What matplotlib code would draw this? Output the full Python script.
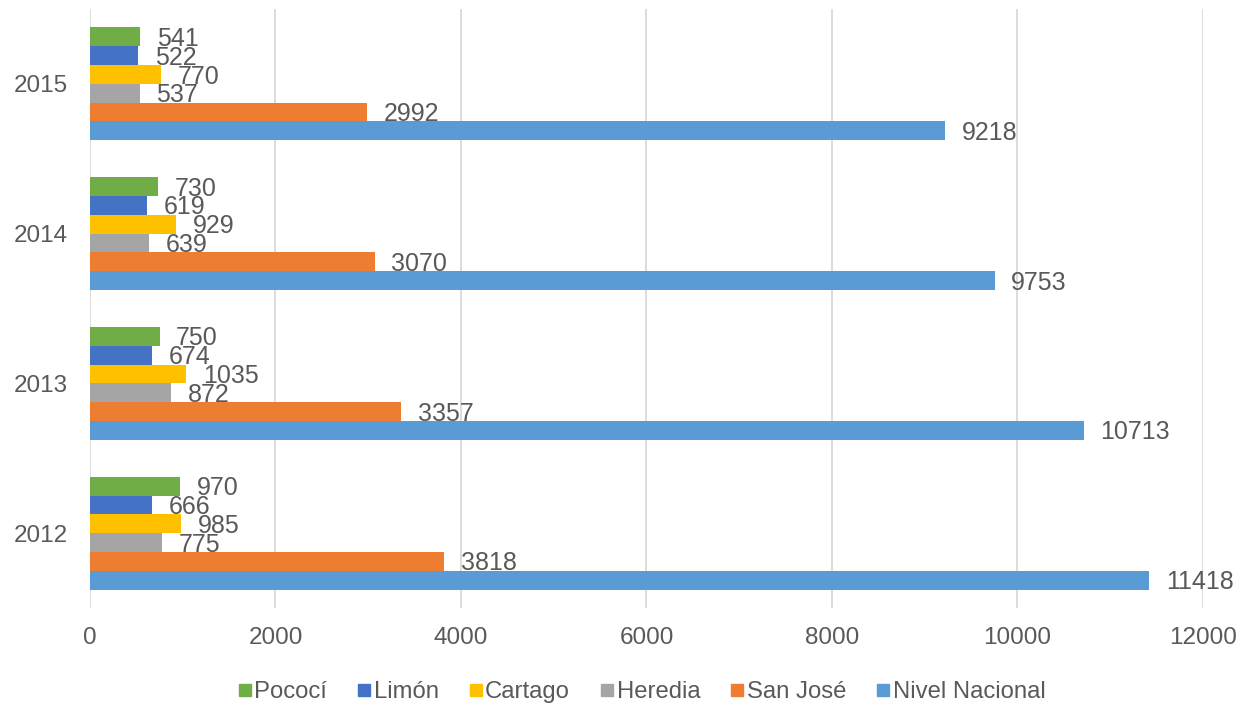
import matplotlib
matplotlib.use("Agg")
import matplotlib.pyplot as plt
from matplotlib.lines import Line2D

years = ["2012", "2013", "2014", "2015"]
series_names = ["Pococí", "Limón", "Cartago", "Heredia", "San José", "Nivel Nacional"]
pococi = [970, 750, 730, 541]
limon = [666, 674, 619, 522]
cartago = [985, 1035, 929, 770]
heredia = [775, 872, 639, 537]
san_jose = [3818, 3357, 3070, 2992]
nivel_nacional = [11418, 10713, 9753, 9218]
colors = ["#70AD47", "#4472C4", "#FFC000", "#A5A5A5", "#ED7D31", "#5B9BD5"]
x_ticks = [0, 2000, 4000, 6000, 8000, 10000, 12000]

series = [pococi, limon, cartago, heredia, san_jose, nivel_nacional]

plt.rcParams["font.family"] = ["Liberation Sans", "DejaVu Sans"]
text_color = "#595959"

fig = plt.figure(figsize=(12.48, 7.08), dpi=100)
ax = fig.add_axes([0.0721, 0.1412, 0.8918, 0.8461])

n = len(series)
bar_h = 0.1256
for j, (vals, name, col) in enumerate(zip(series, series_names, colors)):
    offset = (n / 2 - 0.5 - j) * bar_h
    ys = [i + offset for i in range(len(years))]
    ax.barh(ys, vals, height=bar_h, color=col, label=name, zorder=3)
    for y, v in zip(ys, vals):
        ax.annotate(str(v), xy=(v, y), xytext=(12, -1.5), textcoords="offset points",
                    ha="left", va="center", fontsize=18, color=text_color, zorder=4)

ax.set_xlim(0, 12000)
ax.set_ylim(-0.5, len(years) - 0.5)
ax.set_xticks(x_ticks)
ax.set_xticklabels([str(t) for t in x_ticks])
ax.set_yticks(range(len(years)))
ax.set_yticklabels(years)
ax.tick_params(axis="both", length=0, labelsize=17.5, labelcolor=text_color)
ax.tick_params(axis="x", pad=14)
ax.tick_params(axis="y", pad=16)
ax.grid(axis="x", color="#D9D9D9", linewidth=1.3, zorder=0)
for s in ax.spines.values():
    s.set_visible(False)

handles = [Line2D([0], [0], marker="s", linestyle="none", markersize=8,
                  markerfacecolor=c, markeredgecolor=c) for c in colors]
fig.legend(handles, series_names, loc="center", bbox_to_anchor=(0.513, 0.022),
           ncol=6, frameon=False, fontsize=17.2, labelcolor=text_color,
           handletextpad=0.0, columnspacing=1.15, handlelength=0.8)

fig.savefig("out.png", dpi=100, facecolor="white")
